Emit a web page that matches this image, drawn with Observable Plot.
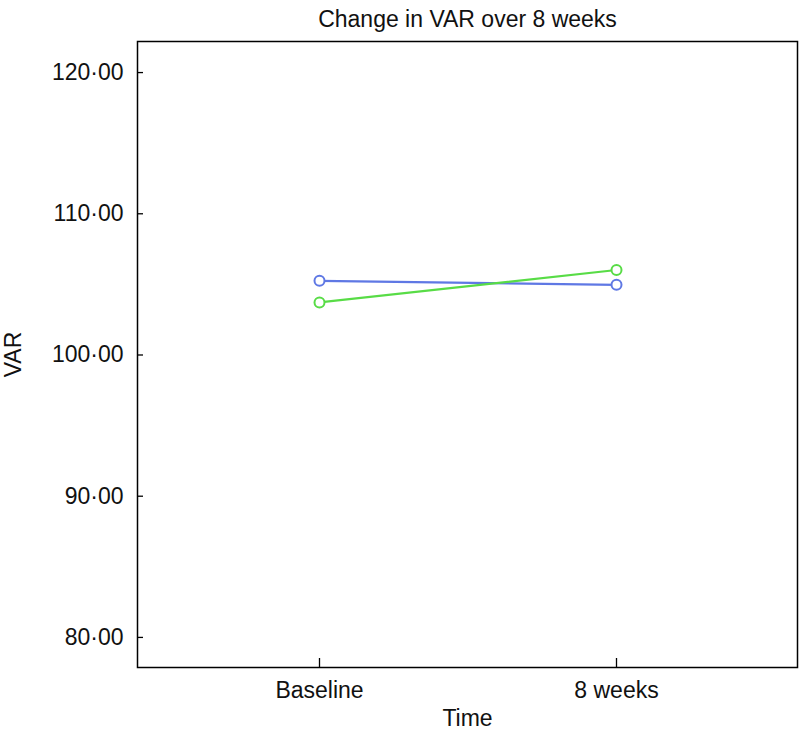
<!DOCTYPE html>
<html>
<head>
<meta charset="utf-8">
<script src="https://cdn.jsdelivr.net/npm/d3@7"></script>
<script src="https://cdn.jsdelivr.net/npm/@observablehq/plot@0.6"></script>
<style>
  html, body { margin: 0; padding: 0; background: #fff; }
  svg { font-family: "Liberation Sans", Arial, Helvetica, sans-serif; }
</style>
</head>
<body>
<div id="chart"></div>
<script>
const title = "Change in VAR over 8 weeks";
const times = ["Baseline", "8 weeks"];
const seriesNames = ["Group A", "Group B"];
const seriesA = [105.25, 104.97];
const seriesB = [103.72, 106.02];
const seriesColors = ["#5f78e4", "#58dc46"];
const yTicks = [80, 90, 100, 110, 120];
const yDomain = [77.87, 122.2];

const data = [];
[seriesA, seriesB].forEach((vals, i) => {
  vals.forEach((v, j) => data.push({series: seriesNames[i], time: times[j], value: v}));
});

const W = 801, H = 735;
const mTop = 41, mBottom = 68, mLeft = 137, mRight = 4;
const plotW = W - mLeft - mRight, plotH = H - mTop - mBottom;
const fmt = d => d.toFixed(2).replace(".", "\u00B7");

const chart = Plot.plot({
  width: W,
  height: H,
  marginTop: mTop,
  marginBottom: mBottom,
  marginLeft: mLeft,
  marginRight: mRight,
  style: {fontFamily: '"Liberation Sans", Arial, sans-serif', fontSize: "23px", color: "#111"},
  x: {type: "point", domain: times, padding: 0.611},
  y: {domain: yDomain},
  color: {domain: seriesNames, range: seriesColors},
  marks: [
    Plot.axisY(yTicks, {tickSize: 0, tickPadding: 14, tickFormat: fmt, fontSize: 23,
      label: "VAR", labelAnchor: "center", labelArrow: "none", labelOffset: 133}),
    Plot.axisX(times, {tickSize: 0, tickPadding: 14, fontSize: 23,
      label: "Time", labelAnchor: "center", labelArrow: "none", labelOffset: 58}),
    Plot.tickY(yTicks, {y: d => d, insetRight: plotW - 6, stroke: "black", strokeWidth: 1.3}),
    Plot.tickX(times, {x: d => d, insetTop: plotH - 9, stroke: "black", strokeWidth: 1.3}),
    Plot.frame({stroke: "black", strokeWidth: 1.5}),
    Plot.line(data, {x: "time", y: "value", z: "series", stroke: "series", strokeWidth: 2.2}),
    Plot.dot(data, {x: "time", y: "value", stroke: "series", r: 5, strokeWidth: 2, fill: "white"}),
    Plot.text([title], {frameAnchor: "top", dy: -31, fontSize: 23, fill: "#111"})
  ]
});
document.getElementById("chart").appendChild(chart);
</script>
</body>
</html>
